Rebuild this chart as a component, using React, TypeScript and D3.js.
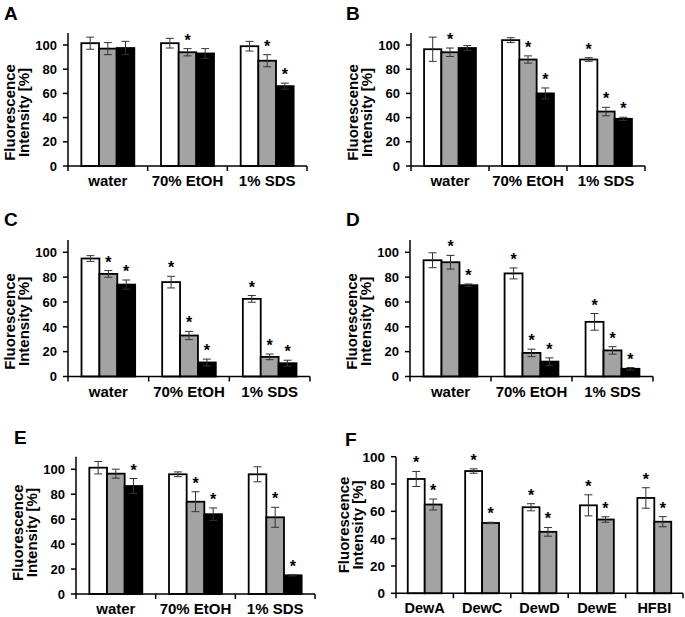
import * as d3 from "d3";

const condCats = ["water", "70% EtOH", "1% SDS"];
const hfCats = ["DewA", "DewC", "DewD", "DewE", "HFBI"];
const seriesFill = ["#ffffff", "#a3a3a3", "#000000"];

// panel A
const aMeans = [[101.5, 101.5, 99], [97, 94, 87], [97.5, 93, 66]];
const aErrs = [[5, 4, 4], [5, 3, 5], [5.5, 4, 2.5]];
const aStars = [[0, 0, 0], [0, 1, 1], [0, 0, 1]];
// panel B
const bMeans = [[96.5, 104, 88], [94, 88, 45], [97.5, 60, 39]];
const bErrs = [[10, 2, 1.5], [3.5, 3, 3.5], [2, 4.5, 1.3]];
const bStars = [[0, 0, 1], [1, 1, 1], [0, 1, 1]];
// panel C
const cMeans = [[95, 76, 62.5], [82.6, 33, 15.8], [74, 11.3, 10.7]];
const cErrs = [[2.3, 4.7, 2.7], [2.7, 3.3, 2.3], [3.7, 2.7, 2.4]];
const cStars = [[0, 1, 1], [1, 1, 1], [1, 1, 1]];
// panel D
const dMeans = [[93.6, 83, 44], [92, 19, 21], [73.5, 12, 6.2]];
const dErrs = [[6, 4.4, 6.7], [5.5, 3, 3], [1, 3, 1]];
const dStars = [[0, 1, 1], [1, 1, 1], [1, 1, 1]];
// panel E
const eMeans = [[101.3, 96, 96], [96.5, 74, 61.5], [86.6, 64, 15]];
const eErrs = [[5, 1.9, 6], [3.6, 8, 8], [6, 5, 0.5]];
const eStars = [[0, 0, 0], [0, 1, 1], [1, 1, 1]];
// panel F
const fMeans = [[83.7, 89.5, 63, 64.4, 69.8], [65, 51.5, 45, 54, 52.4]];
const fErrs = [[5.5, 1.6, 2.6, 7.7, 7.5], [4, 0.5, 3.2, 2, 3.7]];
const fStars = [[1, 1, 1, 1, 1], [1, 1, 1, 1, 1]];

const yTicks = [0, 20, 40, 60, 80, 100];
const FONT = "'Liberation Sans', Arial, Helvetica, sans-serif";

interface PanelProps {
  letter: string;
  lx: number;
  ly: number;
  cats: string[];
  means: number[][];
  errs: number[][];
  stars: number[][];
  x0: number;
  x1: number;
  y0: number;
  y100: number;
  ymax: number;
  groupFrac: number;
  labOff: [number, number];
  labShift: number;
  tickFont: number;
  catFont: number;
}

function Panel(p: PanelProps) {
  const y = d3.scaleLinear().domain([0, 100]).range([p.y0, p.y100]);
  const x = d3.scaleBand<string>().domain(p.cats).range([p.x0, p.x1]);
  const bw = x.bandwidth();
  const inner = d3
    .scaleBand<number>()
    .domain(d3.range(p.means.length))
    .range([(bw * (1 - p.groupFrac)) / 2, (bw * (1 + p.groupFrac)) / 2]);
  const barW = inner.bandwidth();
  const bounds = [...p.cats.map((c) => x(c)!), p.x1];
  const midY = (p.y0 + p.y100) / 2 + p.labShift;

  return (
    <g style={{ fontFamily: FONT, fontWeight: "bold" }}>
      <text x={p.lx} y={p.ly} fontSize={19}>
        {p.letter}
      </text>
      {/* y label */}
      <text
        transform={`translate(${p.x0 + p.labOff[0]},${midY}) rotate(-90)`}
        textAnchor="middle"
        fontSize={15}
      >
        Fluorescence
      </text>
      <text
        transform={`translate(${p.x0 + p.labOff[1]},${midY}) rotate(-90)`}
        textAnchor="middle"
        fontSize={15}
      >
        Intensity [%]
      </text>
      {/* bars */}
      {p.means.map((ser, si) =>
        ser.map((v, ci) => {
          const bx = x(p.cats[ci])! + inner(si)!;
          const cx = bx + barW / 2;
          const e = p.errs[si][ci];
          return (
            <g key={`${si}-${ci}`}>
              <rect
                x={bx}
                y={y(v)}
                width={barW}
                height={y(0) - y(v)}
                fill={seriesFill[si]}
                stroke="#000"
                strokeWidth={1.8}
              />
              <g stroke="#333" strokeWidth={1}>
                <line x1={cx} x2={cx} y1={y(v - e)} y2={y(v + e)} />
                <line x1={cx - 4} x2={cx + 4} y1={y(v + e)} y2={y(v + e)} />
                <line x1={cx - 4} x2={cx + 4} y1={y(v - e)} y2={y(v - e)} />
              </g>
              {p.stars[si][ci] ? (
                <text x={cx} y={y(v + e) - 3} textAnchor="middle" fontSize={16}>
                  *
                </text>
              ) : null}
            </g>
          );
        })
      )}
      {/* y axis */}
      <line x1={p.x0} x2={p.x0} y1={y(0)} y2={y(p.ymax)} stroke="#000" strokeWidth={1.5} />
      {yTicks.map((t) => (
        <g key={t}>
          <line x1={p.x0 - 5} x2={p.x0} y1={y(t)} y2={y(t)} stroke="#000" strokeWidth={1.5} />
          <text
            x={p.x0 - 11}
            y={y(t)}
            dy="0.36em"
            textAnchor="end"
            fontSize={p.tickFont}
          >
            {t}
          </text>
        </g>
      ))}
      {/* x axis */}
      <line x1={p.x0} x2={p.x1} y1={y(0)} y2={y(0)} stroke="#000" strokeWidth={1.5} />
      {bounds.map((bx, i) => (
        <line key={i} x1={bx} x2={bx} y1={y(0)} y2={y(0) + 5} stroke="#000" strokeWidth={1.5} />
      ))}
      {p.cats.map((c) => (
        <text
          key={c}
          x={x(c)! + bw / 2}
          y={y(0) + 20}
          textAnchor="middle"
          fontSize={p.catFont}
        >
          {c}
        </text>
      ))}
    </g>
  );
}

export default function App() {
  const common = {
    groupFrac: 0.665,
    labOff: [-53, -39] as [number, number],
    labShift: 7,
    tickFont: 13,
    catFont: 15,
    ymax: 110,
  };
  return (
    <div style={{ position: "absolute", left: 0, top: 0, background: "#fff" }}>
      <svg width={685} height={617} style={{ display: "block" }}>
        <rect width={685} height={617} fill="#fff" />
        <Panel {...common} letter="A" lx={4} ly={20} cats={condCats} means={aMeans} errs={aErrs} stars={aStars}
          x0={68} x1={307} y0={166} y100={45} />
        <Panel {...common} letter="B" lx={346} ly={20} cats={condCats} means={bMeans} errs={bErrs} stars={bStars}
          x0={411} x1={645} y0={166} y100={45} />
        <Panel {...common} letter="C" lx={4} ly={226} cats={condCats} means={cMeans} errs={cErrs} stars={cStars}
          x0={68} x1={310} y0={376.5} y100={252.3} />
        <Panel {...common} letter="D" lx={346} ly={226} cats={condCats} means={dMeans} errs={dErrs} stars={dStars}
          x0={410} x1={653} y0={376.5} y100={252.3} />
        <Panel {...common} letter="E" lx={14} ly={444} cats={condCats} means={eMeans} errs={eErrs} stars={eStars}
          x0={76} x1={315} y0={594} y100={469.3} labShift={1} />
        <Panel {...common} letter="F" lx={345} ly={446} cats={hfCats} means={fMeans} errs={fErrs} stars={fStars}
          x0={396} x1={683} y0={593.3} y100={456.7} ymax={100} groupFrac={0.59} labOff={[-47, -33]} labShift={0}
          tickFont={13.5} catFont={14.5} />
      </svg>
    </div>
  );
}
